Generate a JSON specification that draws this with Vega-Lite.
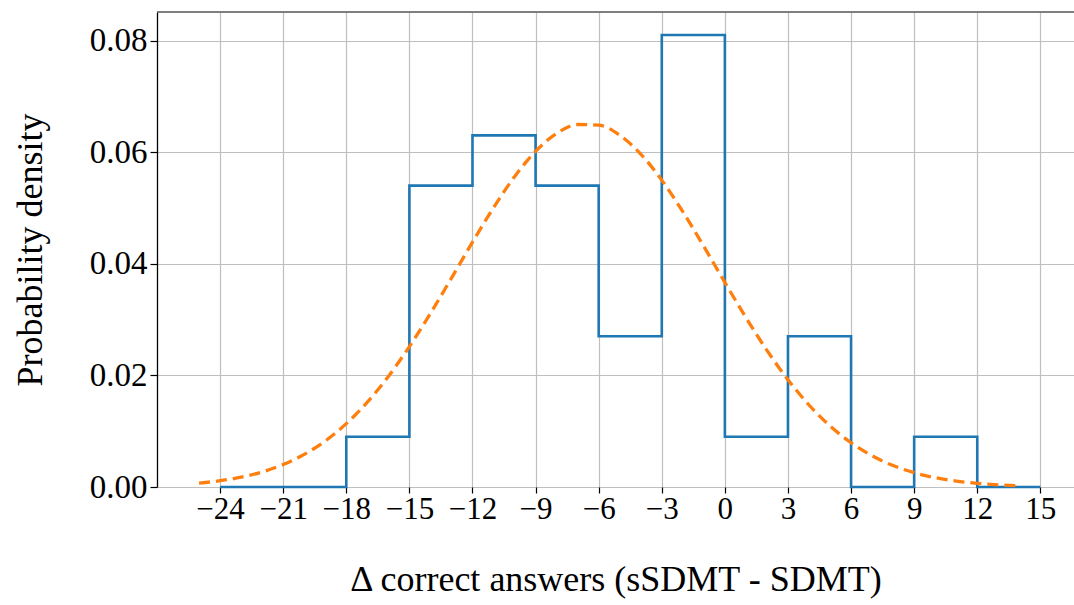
{
  "$schema": "https://vega.github.io/schema/vega-lite/v6.json",
  "width": 917,
  "height": 475,
  "autosize": {"type": "none"},
  "padding": {"left": 157, "top": 12, "right": 0, "bottom": 118},
  "background": "white",
  "config": {
    "view": {"stroke": null},
    "font": "Liberation Serif",
    "axis": {
      "labelFont": "Liberation Serif",
      "titleFont": "Liberation Serif",
      "labelColor": "#000000",
      "titleColor": "#000000",
      "titleFontWeight": "normal",
      "gridColor": "#bfbfbf",
      "gridWidth": 1.2,
      "tickColor": "#000000",
      "tickWidth": 1.2
    }
  },
  "datasets": {
    "hist": [
      {"x": -24, "density": 0},
      {"x": -21, "density": 0},
      {"x": -18, "density": 0.009009},
      {"x": -15, "density": 0.054054},
      {"x": -12, "density": 0.063063},
      {"x": -9, "density": 0.054054},
      {"x": -6, "density": 0.027027},
      {"x": -3, "density": 0.081081},
      {"x": 0, "density": 0.009009},
      {"x": 3, "density": 0.027027},
      {"x": 6, "density": 0},
      {"x": 9, "density": 0.009009},
      {"x": 12, "density": 0},
      {"x": 15, "density": 0}
    ],
    "curve": [
      {"x": -25, "density": 0.000696},
      {"x": -24, "density": 0.001125},
      {"x": -23, "density": 0.001767},
      {"x": -22, "density": 0.002704},
      {"x": -21, "density": 0.004030},
      {"x": -20, "density": 0.005848},
      {"x": -19, "density": 0.008259},
      {"x": -18, "density": 0.011361},
      {"x": -17, "density": 0.015216},
      {"x": -16, "density": 0.019839},
      {"x": -15, "density": 0.025188},
      {"x": -14, "density": 0.031136},
      {"x": -13, "density": 0.037474},
      {"x": -12, "density": 0.043915},
      {"x": -11, "density": 0.050104},
      {"x": -10, "density": 0.055660},
      {"x": -9, "density": 0.060207},
      {"x": -8, "density": 0.063407},
      {"x": -7, "density": 0.065019},
      {"x": -6, "density": 0.064915},
      {"x": -5, "density": 0.063103},
      {"x": -4, "density": 0.059726},
      {"x": -3, "density": 0.055041},
      {"x": -2, "density": 0.049387},
      {"x": -1, "density": 0.043146},
      {"x": 0, "density": 0.036699},
      {"x": 1, "density": 0.030395},
      {"x": 2, "density": 0.024510},
      {"x": 3, "density": 0.019243},
      {"x": 4, "density": 0.014711},
      {"x": 5, "density": 0.010950},
      {"x": 6, "density": 0.007937},
      {"x": 7, "density": 0.005600},
      {"x": 8, "density": 0.003847},
      {"x": 9, "density": 0.002573},
      {"x": 10, "density": 0.001676},
      {"x": 11, "density": 0.001063},
      {"x": 12, "density": 0.000656},
      {"x": 13, "density": 0.000394},
      {"x": 14, "density": 0.000231}
    ],
    "frame": [{"density": 0.0852}]
  },
  "layer": [
    {
      "data": {"name": "hist"},
      "mark": {"type": "line", "interpolate": "step-after", "color": "#1f77b4", "strokeWidth": 2.6},
      "encoding": {
        "x": {
          "field": "x", "type": "quantitative",
          "scale": {"domain": [-27, 16.6], "nice": false, "zero": false},
          "axis": {
            "values": [-24, -21, -18, -15, -12, -9, -6, -3, 0, 3, 6, 9, 12, 15],
            "domain": false,
            "tickSize": 6,
            "labelFontSize": 31,
            "labelPadding": 1,
            "title": "Δ correct answers (sSDMT - SDMT)",
            "titleFontSize": 36,
            "titlePadding": 38
          }
        },
        "y": {
          "field": "density", "type": "quantitative",
          "scale": {"domain": [0, 0.0852], "nice": false, "zero": false},
          "axis": {
            "values": [0, 0.02, 0.04, 0.06, 0.08],
            "format": ".2f",
            "domain": true,
            "domainColor": "#000000",
            "domainWidth": 1.3,
            "tickSize": 7,
            "labelFontSize": 33,
            "labelPadding": 3,
            "title": "Probability density",
            "titleFontSize": 36,
            "titlePadding": 40
          }
        }
      }
    },
    {
      "data": {"name": "curve"},
      "mark": {"type": "line", "interpolate": "monotone", "color": "#ff7f0e", "strokeWidth": 3.3, "strokeDash": [11, 6]},
      "encoding": {
        "x": {"field": "x", "type": "quantitative"},
        "y": {"field": "density", "type": "quantitative"}
      }
    },
    {
      "data": {"name": "frame"},
      "mark": {"type": "rule", "color": "#555555", "strokeWidth": 1.5},
      "encoding": {
        "y": {"field": "density", "type": "quantitative"}
      }
    }
  ]
}
